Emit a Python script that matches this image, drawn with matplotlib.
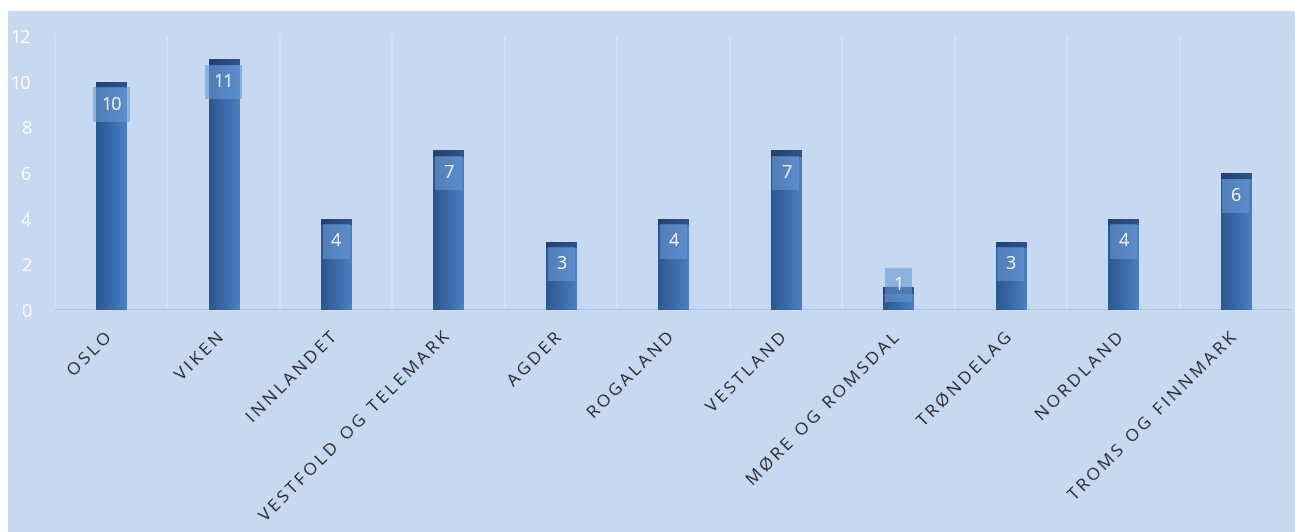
import numpy as np
import matplotlib.pyplot as plt
from matplotlib.patches import Rectangle
from matplotlib.colors import LinearSegmentedColormap
from matplotlib.transforms import ScaledTranslation

# data
regions = ["OSLO", "VIKEN", "INNLANDET", "VESTFOLD OG TELEMARK", "AGDER", "ROGALAND",
           "VESTLAND", "MØRE OG ROMSDAL", "TRØNDELAG", "NORDLAND", "TROMS OG FINNMARK"]
counts = [10, 11, 4, 7, 3, 4, 7, 1, 3, 4, 6]

bg = "#c6d9f0"
bar_w = 0.27

fig = plt.figure(figsize=(12.95, 5.32), dpi=100, facecolor="white")
fig.patches.append(Rectangle((8 / 1295, 0), 1, 1 - 11 / 532, transform=fig.transFigure,
                             facecolor=bg, edgecolor="none", zorder=-10))
ax = fig.add_axes([55 / 1295, 1 - 310 / 532, 1237 / 1295, 274 / 532])
ax.set_facecolor("none")

x = np.arange(len(regions))
ax.set_xlim(-0.5, len(regions) - 0.5)
ax.set_ylim(0, 12)

# vertical separators between categories
for k in range(len(regions) + 1):
    ax.plot([k - 0.5, k - 0.5], [0, 12], color="#d6e3f5", lw=1.2, zorder=0)
ax.axhline(0, color="#a7bfe2", lw=1.2, zorder=1)

body = LinearSegmentedColormap.from_list("body", ["#2d5790", "#3a6aaa", "#4a80c4"])
cap = LinearSegmentedColormap.from_list("cap", ["#23426e", "#2f5488"])
grad = np.linspace(0, 1, 64).reshape(1, -1)

bars = ax.bar(x, counts, width=bar_w, color="none", zorder=2)
for b, v in zip(bars, counts):
    x0 = b.get_x()
    im = ax.imshow(grad, cmap=body, aspect="auto", extent=(x0, x0 + bar_w, 0, v), zorder=2)
    im.set_clip_path(b)
    ch = 0.28
    c = ax.bar(b.get_x() + bar_w / 2, ch, bottom=v - ch, width=bar_w, color="none", zorder=3)[0]
    im2 = ax.imshow(grad, cmap=cap, aspect="auto", extent=(x0, x0 + bar_w, v - ch, v), zorder=3)
    im2.set_clip_path(c)

# value labels with translucent boxes
for xi, v in zip(x, counts):
    yc = v - 1.0 if v >= 2 else 1.1
    bw = 0.33 if v >= 10 else 0.24
    ax.add_patch(Rectangle((xi - bw / 2, yc - 0.75), bw, 1.5, facecolor="#6a98d4",
                           edgecolor="none", alpha=0.6, zorder=4))
    ax.text(xi, yc, str(v), ha="center", va="center", color="white", fontsize=13,
            family="Open Sans", zorder=5)

# category labels, rotated, letter-spaced
ax.set_xticks(x)
ax.set_xticklabels([])
shift = ScaledTranslation(-7 / 100, -19.5 / 100, fig.dpi_scale_trans)
for xi, r in zip(x, regions):
    ax.text(xi, 0, "\u2009".join(list(r)), transform=ax.get_xaxis_transform() + shift,
            rotation=45, ha="right", va="top", rotation_mode="anchor",
            fontsize=12.6, color="#262626", family=["Open Sans", "DejaVu Sans"])

ax.set_yticks(np.arange(0, 13, 2))
ax.tick_params(axis="y", colors="white", labelsize=13, length=0, pad=17)
ax.tick_params(axis="x", length=0)
for lbl in ax.get_yticklabels():
    lbl.set_family("Open Sans")
for s in ax.spines.values():
    s.set_visible(False)

fig.savefig("out.png", dpi=100, facecolor="white")
